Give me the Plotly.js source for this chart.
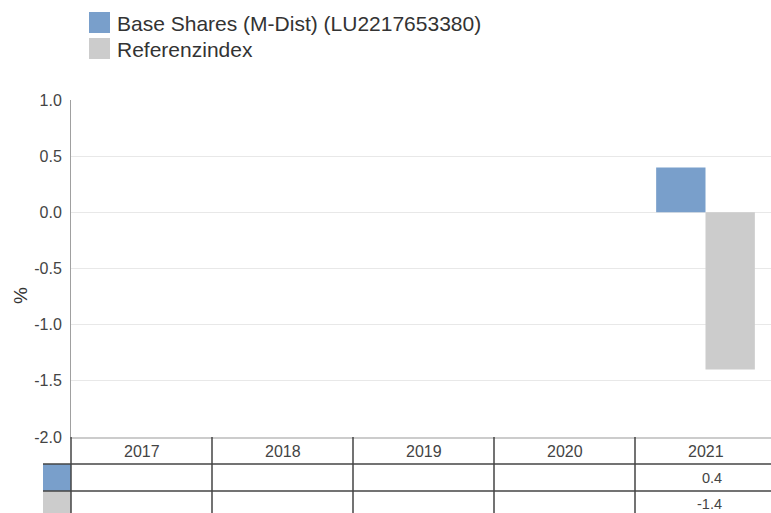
<!DOCTYPE html>
<html>
<head>
<meta charset="utf-8">
<script src="https://cdn.plot.ly/plotly-3.0.1.min.js"></script>
<style>
html,body{margin:0;padding:0;background:#fff;}
#chart{width:771px;height:513px;}
</style>
</head>
<body>
<div id="chart"></div>
<script>
// ---- data ----
var years = ['2017', '2018', '2019', '2020', '2021'];
var fundName = 'Base Shares (M-Dist) (LU2217653380)';
var refName = 'Referenzindex';
var fundValues = [null, null, null, null, 0.4];
var refValues = [null, null, null, null, -1.4];
var yTickVals = [-2.0, -1.5, -1.0, -0.5, 0.0, 0.5, 1.0];
var yTickText = ['-2.0', '-1.5', '-1.0', '-0.5', '0.0', '0.5', '1.0'];

var fundColor = '#799fcb';
var refColor = '#cccccc';
var font = 'Liberation Sans, Arial, sans-serif';

// geometry in paper coords (plot: y 100..437 px, x 71..771 px)
var plotH = 337, plotW = 700;
function py(px) { return (437 - px) / plotH; }
function pxX(px) { return (px - 71) / plotW; }

var traces = [
  {type: 'bar', name: fundName, x: years, y: fundValues, marker: {color: fundColor}, showlegend: false, hoverinfo: 'x+y'},
  {type: 'bar', name: refName, x: years, y: refValues, marker: {color: refColor}, showlegend: false, hoverinfo: 'x+y'}
];

var shapes = [];
var annotations = [];
var lineColor = '#444444';

// table vertical lines
shapes.push({type: 'line', xref: 'paper', yref: 'paper', x0: 0, x1: 0, y0: 0, y1: py(520), line: {color: lineColor, width: 1.5}});
for (var i = 0; i < years.length - 1; i++) {
  shapes.push({type: 'line', xref: 'x', yref: 'paper', x0: i + 0.5, x1: i + 0.5, y0: 0, y1: py(520), line: {color: lineColor, width: 1.5}});
}
// table horizontal lines
[464, 491].forEach(function (yy) {
  shapes.push({type: 'line', xref: 'paper', yref: 'paper', x0: pxX(43), x1: 1.01, y0: py(yy), y1: py(yy), line: {color: lineColor, width: 1.5}});
});
// row colour squares
shapes.push({type: 'rect', xref: 'paper', yref: 'paper', x0: pxX(43), x1: 0, y0: py(491), y1: py(464), fillcolor: fundColor, line: {width: 0}, layer: 'below'});
shapes.push({type: 'rect', xref: 'paper', yref: 'paper', x0: pxX(43), x1: 0, y0: py(520), y1: py(491), fillcolor: refColor, line: {width: 0}, layer: 'below'});

// header labels
years.forEach(function (yr, i) {
  annotations.push({xref: 'x', yref: 'paper', x: i, y: py(451), text: yr, showarrow: false,
    xanchor: 'center', yanchor: 'middle', font: {family: font, size: 16, color: '#444'}});
});
// value rows
function addRow(vals, yc) {
  vals.forEach(function (v, i) {
    if (v === null) return;
    annotations.push({xref: 'x', yref: 'paper', x: i + 0.13, y: py(yc), text: v.toFixed(1), showarrow: false,
      xanchor: 'right', yanchor: 'middle', font: {family: font, size: 14.5, color: '#444'}});
  });
}
addRow(fundValues, 478);
addRow(refValues, 504);

// custom legend
shapes.push({type: 'rect', xref: 'paper', yref: 'paper', x0: pxX(89), x1: pxX(110), y0: py(33), y1: py(12), fillcolor: fundColor, line: {width: 0}});
shapes.push({type: 'rect', xref: 'paper', yref: 'paper', x0: pxX(89), x1: pxX(110), y0: py(59), y1: py(38), fillcolor: refColor, line: {width: 0}});
annotations.push({xref: 'paper', yref: 'paper', x: pxX(115), y: py(23), text: fundName, showarrow: false,
  xanchor: 'left', yanchor: 'middle', font: {family: font, size: 21, color: '#333'}});
annotations.push({xref: 'paper', yref: 'paper', x: pxX(115), y: py(49), text: refName, showarrow: false,
  xanchor: 'left', yanchor: 'middle', font: {family: font, size: 21, color: '#333'}});

// y-axis title
annotations.push({xref: 'paper', yref: 'paper', x: pxX(20), y: py(296), text: '%', textangle: -90, showarrow: false,
  xanchor: 'center', yanchor: 'middle', font: {family: font, size: 19, color: '#333'}});

var layout = {
  width: 771, height: 513,
  margin: {l: 71, r: 0, t: 100, b: 76, pad: 0},
  paper_bgcolor: '#fff', plot_bgcolor: '#fff',
  barmode: 'group', bargap: 0.3, bargroupgap: 0,
  showlegend: false,
  font: {family: font, size: 16, color: '#444'},
  xaxis: {
    type: 'category', categoryarray: years, range: [-0.5, 4.4645],
    showticklabels: false, ticks: '', showgrid: false, zeroline: false,
    showline: true, linecolor: '#cccccc', linewidth: 1.5, fixedrange: true
  },
  yaxis: {
    range: [-2, 1], tickmode: 'array', tickvals: yTickVals, ticktext: yTickText,
    showgrid: true, gridcolor: '#e8e8e8', gridwidth: 1, zeroline: false,
    showline: true, linecolor: '#a0a0a0', linewidth: 1,
    ticks: '', ticklabelstandoff: 5,
    tickfont: {family: font, size: 16, color: '#444'}, fixedrange: true
  },
  shapes: shapes,
  annotations: annotations
};

Plotly.newPlot('chart', traces, layout, {displayModeBar: false, staticPlot: true});
</script>
</body>
</html>
